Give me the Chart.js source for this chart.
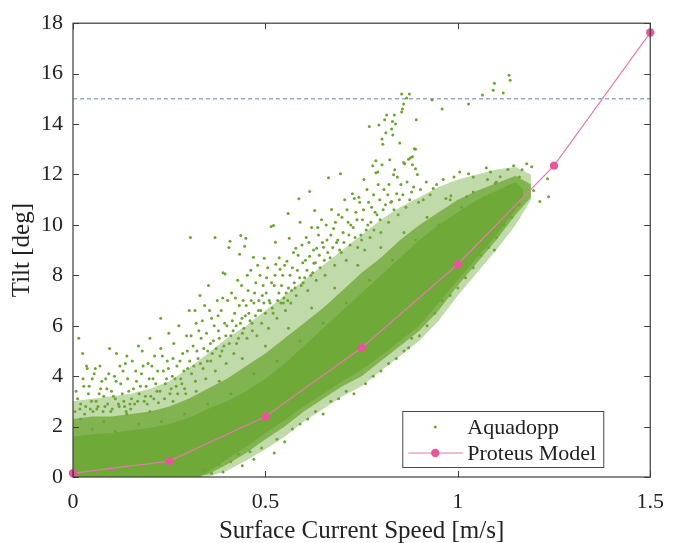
<!DOCTYPE html>
<html>
<head>
<meta charset="utf-8">
<script src="https://cdn.jsdelivr.net/npm/chart.js@4/dist/chart.umd.min.js"></script>
<style>
  html, body { margin: 0; padding: 0; background: #fff; }
  #wrap { width: 676px; height: 543px; }
</style>
</head>
<body>
<div id="wrap"><canvas id="c" width="676" height="543"></canvas></div>
<script>
// ---- axes ----
const xTicks = [0, 0.5, 1, 1.5];
const xTickLabels = ['0', '0.5', '1', '1.5'];
const yTicks = [0, 2, 4, 6, 8, 10, 12, 14, 16, 18];
const yTickLabels = ['0', '2', '4', '6', '8', '10', '12', '14', '16', '18'];

// ---- Proteus model prediction ----
const modelSpeed = [0, 0.25, 0.5, 0.75, 1.0, 1.25, 1.5];
const modelTilt = [0.15, 0.63, 2.4, 5.13, 8.44, 12.35, 17.63];

// ---- tilt limit ----
const tiltLimit = 15;

// ---- Aquadopp: saturated core of the sample cloud (upper / lower outline) ----
const coreSpeed  = [0, 0.05, 0.1, 0.15, 0.2, 0.25, 0.3, 0.33, 0.35, 0.4, 0.45, 0.5, 0.55, 0.6, 0.65, 0.7, 0.75, 0.8, 0.85, 0.9, 0.95, 1.0, 1.05, 1.1, 1.15, 1.17];
const coreTop    = [1.6, 1.7, 1.75, 1.85, 1.95, 2.1, 2.35, 2.55, 2.7, 3.0, 3.4, 3.9, 4.5, 5.2, 5.9, 6.6, 7.3, 8.0, 8.7, 9.4, 10.0, 10.5, 11.0, 11.35, 11.7, 11.4];
const coreBottom = [0, 0, 0, 0, 0, 0, 0, 0, 0.2, 0.7, 1.2, 1.75, 2.25, 2.8, 3.3, 3.8, 4.25, 4.8, 5.4, 6.0, 6.9, 7.8, 8.7, 9.6, 10.6, 11.1];

// ---- Aquadopp: thickly speckled zones around the core (inner and outer outline) ----
const haloSpeed   = [0, 0.05, 0.1, 0.15, 0.2, 0.25, 0.3, 0.35, 0.4, 0.45, 0.5, 0.55, 0.6, 0.65, 0.7, 0.75, 0.8, 0.85, 0.9, 0.95, 1.0, 1.05, 1.1, 1.15, 1.19];
const innerTop    = [2.3, 2.4, 2.4, 2.5, 2.6, 2.8, 3.1, 3.5, 3.9, 4.4, 4.9, 5.5, 6.1, 6.7, 7.4, 8.1, 8.7, 9.4, 10.0, 10.5, 11.0, 11.35, 11.65, 11.95, 11.6];
const innerBottom = [0, 0, 0, 0, 0, 0, 0, 0.1, 0.5, 0.95, 1.5, 2.0, 2.6, 3.1, 3.6, 4.0, 4.6, 5.2, 5.8, 6.6, 7.6, 8.5, 9.4, 10.4, 11.1];
const outerTop    = [3.0, 3.1, 3.2, 3.3, 3.5, 3.8, 4.3, 4.9, 5.5, 6.0, 6.6, 7.2, 7.8, 8.4, 9.0, 9.6, 10.2, 10.7, 11.1, 11.5, 11.8, 12.0, 12.2, 12.3, 12.0];
const outerBottom = [0, 0, 0, 0, 0, 0, 0, 0, 0.25, 0.65, 1.1, 1.6, 2.2, 2.7, 3.2, 3.6, 4.2, 4.8, 5.4, 6.2, 7.2, 8.1, 9.0, 10.0, 11.0];

// ---- Aquadopp: individual samples outside the dense band ----
const aquadoppLow = [
  [0.005,2.6],[0.012,3.1],[0.015,5.5],[0.02,2.9],[0.025,4.9],[0.028,3.6],[0.03,2.5],[0.035,4.4],[0.037,4.3],[0.04,3.3],
  [0.045,2.7],[0.05,3.9],[0.052,2.6],[0.058,4.3],[0.06,3.0],[0.065,2.8],[0.07,4.4],[0.072,3.5],[0.078,2.6],[0.08,3.2],
  [0.085,3.9],[0.09,2.9],[0.095,5.1],[0.1,3.4],[0.102,2.7],[0.108,4.0],[0.11,3.1],[0.113,4.9],[0.12,2.8],[0.124,3.7],
  [0.13,4.2],[0.132,3.0],[0.136,4.5],[0.138,2.6],[0.14,4.8],[0.145,3.4],[0.148,2.9],
  [0.152,3.1],[0.154,4.6],[0.16,2.9],[0.165,3.8],[0.17,5.2],[0.172,3.3],[0.178,4.1],[0.18,5.0],[0.185,3.0],[0.19,3.6],
  [0.195,4.5],[0.2,5.5],[0.202,3.2],[0.208,3.9],[0.212,4.8],[0.218,3.4],[0.222,2.95],[0.228,5.1],[0.228,6.3],[0.235,4.2],
  [0.24,3.7],[0.245,4.6],[0.249,5.7],[0.252,3.3],[0.258,4.0],[0.262,5.3],[0.268,3.6],[0.27,4.4],[0.275,6.0],[0.28,3.9],
  [0.285,4.9],[0.29,3.5],[0.295,5.6],[0.298,4.3],
  [0.008,3.4],[0.018,2.7],[0.026,3.9],[0.033,2.8],[0.042,3.6],[0.048,3.0],[0.055,4.1],[0.062,2.7],[0.068,3.3],[0.075,3.8],
  [0.083,2.8],[0.088,3.5],[0.093,4.1],[0.098,2.6],[0.105,3.2],[0.112,3.8],[0.118,2.9],[0.122,4.4],[0.128,3.3],[0.134,2.8],
  [0.142,3.9],[0.15,2.7],[0.157,3.5],[0.163,4.2],[0.168,3.0],[0.175,3.6],[0.182,4.4],[0.188,3.2],[0.193,2.9],[0.198,3.9],
  [0.205,4.4],[0.21,3.1],[0.215,3.7],[0.22,4.2],[0.226,3.4],[0.232,4.8],[0.238,3.1],[0.243,3.9],[0.248,4.3],[0.255,3.5],
  [0.26,4.7],[0.265,3.9],[0.272,3.3],[0.278,4.6],[0.283,3.7],[0.288,4.2],[0.293,3.3],[0.297,5.0]
];
const aquadoppMid = [
  [0.302,6.6],[0.305,9.5],[0.308,4.1],[0.312,5.2],[0.318,3.8],[0.32,6.1],[0.325,4.7],[0.33,7.2],[0.333,5.5],[0.338,4.3],
  [0.342,6.8],[0.345,3.9],[0.35,5.0],[0.352,7.6],[0.358,4.6],[0.36,6.3],[0.365,5.4],[0.369,9.5],[0.37,4.2],[0.375,7.0],
  [0.378,5.8],[0.382,4.8],[0.385,6.6],[0.39,8.1],[0.392,5.2],[0.395,8.05],[0.398,4.5],[0.4,6.0],[0.405,9.1],[0.408,9.35],
  [0.41,5.6],[0.412,7.3],[0.418,4.9],[0.42,6.5],[0.425,5.3],[0.428,7.8],[0.433,8.84],[0.435,6.1],[0.436,9.58],[0.44,5.7],
  [0.442,7.0],[0.446,9.15],[0.448,6.4],[0.449,9.47],
  [0.452,5.5],[0.455,7.4],[0.46,6.2],[0.462,8.2],[0.466,5.8],[0.469,8.72],[0.47,6.9],[0.475,7.7],[0.478,5.6],[0.482,6.6],
  [0.486,8.0],[0.49,6.1],[0.492,7.2],[0.497,8.68],[0.5,6.5],[0.503,7.9],[0.508,5.9],[0.51,7.0],[0.515,9.94],[0.518,6.7],
  [0.521,9.98],[0.523,7.6],[0.526,9.31],[0.527,8.44],[0.53,6.3],[0.535,7.3],[0.538,8.24],[0.54,6.9],[0.545,8.0],[0.548,7.1],
  [0.552,6.6],[0.556,8.56],[0.559,10.45],[0.56,7.5],[0.562,9.47],[0.566,6.9],[0.57,8.3],[0.575,7.7],[0.579,9.07],[0.58,7.2],
  [0.585,8.8],[0.587,11.04],[0.59,10.1],[0.593,7.6],[0.597,8.5],
  [0.303,4.6],[0.307,5.6],[0.314,4.4],[0.317,6.6],[0.322,5.0],[0.327,5.8],[0.331,4.5],[0.336,6.2],[0.34,5.1],[0.347,5.7],
  [0.349,4.6],[0.355,6.6],[0.357,5.3],[0.362,4.9],[0.367,6.0],[0.372,5.1],[0.377,6.4],[0.38,5.5],[0.387,5.0],[0.389,7.1],
  [0.394,6.1],[0.397,5.6],[0.402,7.0],[0.406,5.3],[0.414,6.2],[0.416,5.8],[0.422,7.1],[0.424,6.0],[0.43,5.5],[0.432,6.8],
  [0.438,7.6],[0.439,6.3],[0.444,5.9],[0.45,6.8],[0.453,8.0],[0.457,6.5],[0.463,7.0],[0.465,6.1],[0.472,7.3],[0.474,6.4],
  [0.48,8.4],[0.483,7.0],[0.488,6.6],[0.494,7.6],[0.496,6.9],[0.502,7.3],[0.506,8.3],[0.512,6.9],[0.516,7.7],[0.52,6.5],
  [0.525,8.0],[0.532,7.0],[0.536,8.7],[0.542,7.6],[0.547,6.9],[0.55,8.4],[0.554,7.3],[0.558,7.0],[0.564,8.0],[0.568,7.4],
  [0.573,8.9],[0.577,7.5],[0.583,8.2],[0.589,7.9],[0.595,9.2],[0.598,7.7]
];
const aquadoppHigh = [
  [0.602,7.9],[0.606,9.5],[0.61,7.4],[0.615,8.76],[0.615,11.32],[0.62,9.9],[0.623,8.1],[0.626,8.48],[0.628,10.57],[0.632,7.8],
  [0.633,9.07],[0.638,9.6],[0.642,8.3],[0.646,10.2],[0.651,9.11],[0.655,8.0],[0.66,9.4],[0.664,11.87],[0.668,8.7],[0.672,10.61],
  [0.677,9.86],[0.68,8.4],[0.685,9.3],[0.69,10.4],[0.695,12.03],[0.697,8.9],[0.702,9.7],[0.706,11.0],[0.71,8.6],[0.715,10.1],
  [0.72,9.2],[0.726,11.24],[0.728,9.9],[0.731,11.05],[0.735,10.5],[0.74,9.1],[0.745,10.9],[0.748,9.6],
  [0.752,10.2],[0.756,11.8],[0.758,9.0],[0.764,11.4],[0.766,10.0],[0.772,9.5],[0.776,10.7],[0.779,12.35],[0.782,9.8],[0.787,12.07],
  [0.787,12.54],[0.79,10.4],[0.792,12.1],[0.797,11.0],[0.8,9.7],[0.803,12.39],[0.806,10.6],[0.818,11.2],[0.82,10.1],[0.823,12.58],
  [0.826,10.9],[0.828,10.93],[0.833,11.99],[0.836,12.19],[0.841,11.24],[0.845,10.4],[0.852,11.6],[0.859,12.47],[0.862,12.43],[0.865,10.7],
  [0.872,12.6],[0.877,12.66],[0.88,11.3],[0.882,12.7],[0.882,12.39],[0.89,12.23],[0.895,12.0],[0.898,10.9],
  [0.903,11.4],[0.91,11.0],[0.918,11.7],[0.928,11.2],[0.936,11.44],[0.945,11.6],[0.962,11.8],[0.969,11.05],[0.982,11.16],[0.99,11.9],
  [1.005,12.1],[1.023,11.12],[1.028,12.03],[1.04,11.9],[1.074,12.27],[1.077,11.8],[1.085,12.1],[1.097,11.64],[1.11,11.91],[1.13,12.2],
  [1.145,12.35],[1.167,12.19],[1.179,12.43],[1.192,12.31],[1.197,11.36],[1.213,10.93],[1.233,11.83],[1.236,11.12],[1.095,9.0],
  [0.604,8.6],[0.608,8.2],[0.613,9.3],[0.618,8.0],[0.625,9.0],[0.63,8.5],[0.636,9.9],[0.64,8.8],[0.648,9.3],[0.653,8.6],
  [0.658,10.0],[0.662,8.9],[0.67,9.6],[0.675,9.1],[0.682,10.1],[0.688,9.4],[0.693,9.0],[0.699,10.3],[0.704,9.3],[0.712,10.6],
  [0.717,9.6],[0.722,10.0],[0.733,9.5],[0.738,10.2],[0.743,11.1],[0.75,9.4],[0.755,10.6],[0.762,9.8],[0.768,10.9],[0.774,10.1],
  [0.781,11.2],[0.785,10.5],[0.793,11.6],[0.798,10.2],[0.808,11.4],[0.812,10.8],[0.821,11.6],[0.834,10.6],[0.843,11.9],[0.848,11.0],
  [0.857,11.2],[0.868,11.7],[0.875,11.0],[0.885,11.5]
];
const aquadoppOutliers = [
  [0.77,13.9],[0.795,13.96],[0.803,13.41],[0.805,13.2],[0.81,14.17],[0.813,13.65],[0.815,14.36],[0.828,13.8],[0.83,14.1],[0.831,13.57],
  [0.835,14.36],[0.838,14.0],[0.849,13.25],[0.854,15.19],[0.854,14.48],[0.856,14.6],[0.859,14.8],[0.867,15.03],[0.874,15.19],[0.887,13.02],
  [0.89,13.0],[0.892,14.17],[0.933,14.95],[0.959,14.6],[1.028,14.8],[1.064,15.15],[1.092,15.34],[1.095,15.62],[1.118,15.23],[1.133,15.94],
  [1.136,15.74]
];
const aquadoppUnder = [
  [0.34,0.3],[0.36,0.15],[0.38,0.5],[0.39,0.2],[0.41,0.6],[0.43,0.9],[0.44,0.45],[0.46,1.0],[0.47,0.7],[0.49,1.15],
  [0.523,0.95],[0.53,1.5],[0.55,1.4],[0.57,1.9],[0.59,2.1],[0.61,2.3],[0.63,2.6],[0.65,2.5],[0.67,3.0],[0.69,3.1],
  [0.71,3.4],[0.73,3.3],[0.76,3.7],[0.78,4.0],[0.8,4.2],[0.82,4.5],[0.84,4.7],[0.86,5.0],[0.872,5.13],[0.88,5.5],
  [0.9,5.6],[0.92,6.0],[0.94,6.5],[0.96,7.0],[0.98,7.2],[1.0,7.5],[1.02,7.9],[1.04,8.3],[1.06,8.8],[1.08,9.1],
  [1.1,9.5],[1.12,10.0],[1.14,10.3],[1.16,10.8]
];
const aquadoppEdge = [
  [0.02,2.3],[0.05,1.9],[0.08,2.2],[0.11,1.8],[0.14,2.5],[0.17,2.1],[0.2,2.6],[0.23,2.2],[0.26,3.0],[0.29,2.5],
  [0.32,3.4],[0.35,2.9],[0.38,3.8],[0.41,3.3],[0.44,4.7],[0.47,4.1],[0.5,5.2],[0.53,4.6],[0.56,5.9],[0.59,5.4],
  [0.62,6.7],[0.65,6.1],[0.68,7.5],[0.71,6.9],[0.74,8.4],[0.77,7.8],[0.8,9.1],[0.83,8.6],[0.86,9.7],[0.89,9.4],
  [0.92,10.3],[0.95,10.0],[0.98,11.0],[1.01,10.7],[1.04,11.3],[1.07,11.1],[1.1,11.7],[1.13,11.5],[1.16,11.9]
];

// ---- styling ----
const SERIF = '"Liberation Serif", "Times New Roman", "DejaVu Serif", serif';
const GREEN = '#6ba534';
const GREEN_CORE = '#6faa39';
const GREEN_INNER = 'rgba(108,168,52,0.75)';
const GREEN_OUTER = 'rgba(108,168,52,0.42)';
const PINK = '#e8559b';
const PINK_LINE = '#e27bab';
const INK = '#222222';
const FRAME = '#3c3c3c';

const toXY = (xs, ys) => xs.map((v, i) => ({ x: v, y: ys[i] }));
const fromPairs = ps => ps.map(p => ({ x: p[0], y: p[1] }));
const aquadoppSamples = fromPairs([].concat(aquadoppLow, aquadoppMid, aquadoppHigh, aquadoppOutliers, aquadoppUnder, aquadoppEdge));

// axes box with inward ticks on all four sides
const axesBox = {
  id: 'axesBox',
  afterDatasetsDraw(chart) {
    const { ctx, chartArea: a, scales: { x, y } } = chart;
    ctx.save();
    ctx.strokeStyle = FRAME;
    ctx.lineWidth = 1.2;
    ctx.strokeRect(a.left, a.top, a.right - a.left, a.bottom - a.top);
    const L = 6;
    ctx.lineWidth = 1;
    ctx.beginPath();
    y.ticks.forEach(t => {
      const py = Math.round(y.getPixelForValue(t.value)) + 0.5;
      ctx.moveTo(a.left, py); ctx.lineTo(a.left + L, py);
      ctx.moveTo(a.right, py); ctx.lineTo(a.right - L, py);
    });
    x.ticks.forEach(t => {
      const px = Math.round(x.getPixelForValue(t.value)) + 0.5;
      ctx.moveTo(px, a.bottom); ctx.lineTo(px, a.bottom - L);
      ctx.moveTo(px, a.top); ctx.lineTo(px, a.top + L);
    });
    ctx.stroke();
    ctx.restore();
  }
};

// boxed legend in the lower right of the plot area
const boxedLegend = {
  id: 'boxedLegend',
  afterDraw(chart) {
    const { ctx, chartArea: a } = chart;
    const ds = chart.data.datasets;
    const scatter = ds.find(d => d.label === 'Aquadopp');
    const model = ds.find(d => d.label === 'Proteus Model');
    const w = 201, h = 56;
    const bx = a.right - 47 - w, by = a.bottom - 10 - h;
    ctx.save();
    ctx.fillStyle = '#ffffff';
    ctx.fillRect(bx, by, w, h);
    ctx.strokeStyle = '#4a4a4a';
    ctx.lineWidth = 1;
    ctx.strokeRect(bx + 0.5, by + 0.5, w, h);
    const mx = bx + 33, y1 = by + 16, y2 = by + 42;
    ctx.fillStyle = GREEN;
    ctx.beginPath(); ctx.arc(mx, y1, 1.5, 0, Math.PI * 2); ctx.fill();
    ctx.strokeStyle = PINK_LINE;
    ctx.lineWidth = 1.2;
    ctx.beginPath(); ctx.moveTo(bx + 6, y2); ctx.lineTo(bx + 61, y2); ctx.stroke();
    ctx.fillStyle = PINK;
    ctx.beginPath(); ctx.arc(mx, y2, 4.2, 0, Math.PI * 2); ctx.fill();
    ctx.fillStyle = INK;
    ctx.font = '22px ' + SERIF;
    ctx.textAlign = 'left';
    ctx.textBaseline = 'middle';
    ctx.fillText(scatter.label, bx + 65, y1 + 1);
    ctx.fillText(model.label, bx + 65, y2 + 1);
    ctx.restore();
  }
};

const bandLine = { type: 'line', borderColor: 'transparent', borderWidth: 0, pointRadius: 0, pointHoverRadius: 0, tension: 0 };

new Chart(document.getElementById('c'), {
  type: 'scatter',
  data: {
    datasets: [
      Object.assign({ label: 'outer-bottom', data: toXY(haloSpeed, outerBottom), fill: false, order: 8 }, bandLine),
      Object.assign({ label: 'outer-top', data: toXY(haloSpeed, outerTop), fill: '-1', backgroundColor: GREEN_OUTER, order: 7 }, bandLine),
      Object.assign({ label: 'inner-bottom', data: toXY(haloSpeed, innerBottom), fill: false, order: 6 }, bandLine),
      Object.assign({ label: 'inner-top', data: toXY(haloSpeed, innerTop), fill: '-1', backgroundColor: GREEN_INNER, order: 5 }, bandLine),
      Object.assign({ label: 'core-bottom', data: toXY(coreSpeed, coreBottom), fill: false, order: 4 }, bandLine),
      Object.assign({ label: 'core-top', data: toXY(coreSpeed, coreTop), fill: '-1', backgroundColor: GREEN_CORE, order: 3 }, bandLine),
      {
        label: 'Aquadopp',
        data: aquadoppSamples,
        pointRadius: 1.5,
        pointBackgroundColor: GREEN,
        pointBorderWidth: 0,
        order: 2
      },
      {
        type: 'line',
        label: 'limit',
        data: toXY([0, 1.5], [tiltLimit, tiltLimit]),
        borderColor: '#4f86c6',
        borderWidth: 1,
        borderDash: [4, 3],
        pointRadius: 0,
        fill: false,
        order: 1
      },
      {
        type: 'line',
        label: 'Proteus Model',
        data: toXY(modelSpeed, modelTilt),
        borderColor: PINK_LINE,
        borderWidth: 1.2,
        pointRadius: 4.2,
        pointBackgroundColor: PINK,
        pointBorderWidth: 0,
        tension: 0,
        fill: false,
        clip: false,
        order: 0
      }
    ]
  },
  options: {
    responsive: false,
    animation: false,
    devicePixelRatio: 1,
    layout: { padding: { top: 21, right: 17, left: 0, bottom: 0 } },
    plugins: {
      legend: { display: false },
      tooltip: { enabled: false }
    },
    scales: {
      x: {
        type: 'linear',
        min: 0,
        max: 1.5,
        afterBuildTicks: s => { s.ticks = xTicks.map(v => ({ value: v })); },
        afterFit: s => { s.height = 66; },
        grid: { display: false, drawTicks: false },
        border: { display: false },
        ticks: {
          padding: 12,
          color: INK,
          font: { family: SERIF, size: 22 },
          maxRotation: 0,
          autoSkip: false,
          callback: (v, i) => xTickLabels[i]
        },
        title: {
          display: true,
          text: 'Surface Current Speed [m/s]',
          color: INK,
          font: { family: SERIF, size: 25, lineHeight: 0.9 },
          padding: { top: 0, bottom: 0 }
        }
      },
      y: {
        type: 'linear',
        min: 0,
        max: 18,
        afterBuildTicks: s => { s.ticks = yTicks.map(v => ({ value: v })); },
        afterFit: s => { s.width = 73; },
        grid: { display: false, drawTicks: false },
        border: { display: false },
        ticks: {
          padding: 10,
          color: INK,
          font: { family: SERIF, size: 22 },
          autoSkip: false,
          callback: (v, i) => yTickLabels[i]
        },
        title: {
          display: true,
          text: 'Tilt [deg]',
          color: INK,
          font: { family: SERIF, size: 25, lineHeight: 1 },
          padding: { top: 10, bottom: 0 }
        }
      }
    }
  },
  plugins: [axesBox, boxedLegend]
});
</script>
</body>
</html>
